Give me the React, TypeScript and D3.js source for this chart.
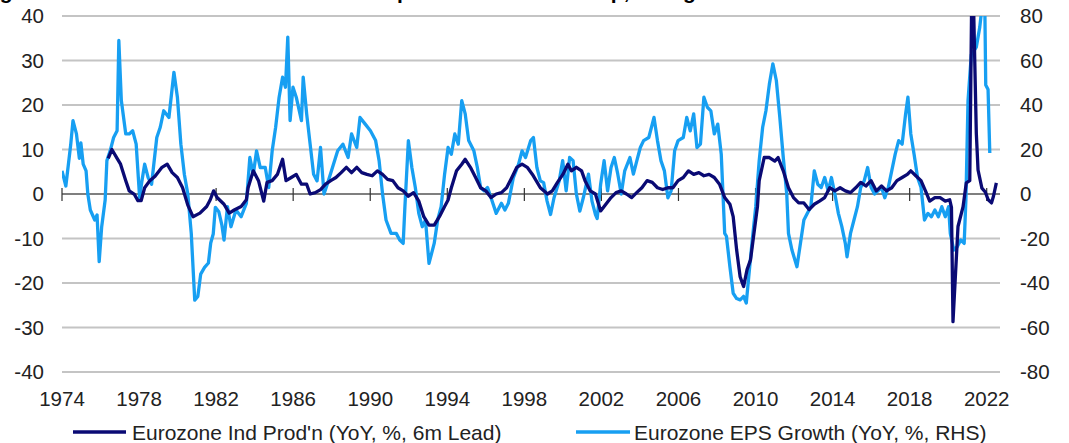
import React from "react";
import * as d3 from "d3";

const W = 1069;
const H = 443;

const yearTicks = [1974, 1978, 1982, 1986, 1990, 1994, 1998, 2002, 2006, 2010, 2014, 2018, 2022];
const leftTicks = [-40, -30, -20, -10, 0, 10, 20, 30, 40];
const rightTicks = [-80, -60, -40, -20, 0, 20, 40, 60, 80];

const seriesNames = ["Eurozone Ind Prod'n (YoY, %, 6m Lead)", "Eurozone EPS Growth (YoY, %, RHS)"];

// Eurozone Ind Prod'n (YoY %, 6m lead) — left axis
const ipYears = [
  1976.4, 1976.59, 1976.86, 1977.04, 1977.31, 1977.49, 1977.76, 1977.94, 1978.11, 1978.29,
  1978.56, 1978.83, 1979.19, 1979.46, 1979.72, 1979.99, 1980.26, 1980.53, 1980.8, 1981.16,
  1981.51, 1981.69, 1981.87, 1982.05, 1982.41, 1982.68, 1982.94, 1983.3, 1983.57, 1983.66,
  1983.93, 1984.2, 1984.47, 1984.64, 1984.91, 1985.18, 1985.45, 1985.63, 1985.9, 1986.16,
  1986.43, 1986.7, 1986.88, 1987.15, 1987.42, 1987.68, 1987.95, 1988.22, 1988.49, 1988.76,
  1989.03, 1989.3, 1989.56, 1989.83, 1990.1, 1990.37, 1990.64, 1990.9, 1991.17, 1991.44,
  1991.71, 1991.98, 1992.25, 1992.52, 1992.78, 1993.05, 1993.32, 1993.59, 1993.86, 1994.04,
  1994.21, 1994.48, 1994.75, 1994.93, 1995.2, 1995.47, 1995.73, 1996.0, 1996.27, 1996.54,
  1996.81, 1997.08, 1997.35, 1997.61, 1997.88, 1998.15, 1998.42, 1998.83, 1999.2, 1999.45,
  1999.72, 2000.0, 2000.26, 2000.44, 2000.7, 2000.97, 2001.15, 2001.42, 2001.69, 2001.96,
  2002.23, 2002.5, 2002.76, 2003.03, 2003.3, 2003.57, 2003.83, 2004.1, 2004.37, 2004.64,
  2004.91, 2005.18, 2005.45, 2005.71, 2005.98, 2006.25, 2006.52, 2006.79, 2007.06, 2007.32,
  2007.59, 2007.86, 2008.13, 2008.4, 2008.67, 2008.84, 2009.02, 2009.2, 2009.38, 2009.56,
  2009.74, 2009.92, 2010.1, 2010.19, 2010.45, 2010.72, 2011.0, 2011.17, 2011.44, 2011.71,
  2011.97, 2012.24, 2012.51, 2012.78, 2013.05, 2013.32, 2013.59, 2013.85, 2014.12, 2014.39,
  2014.66, 2014.93, 2015.2, 2015.46, 2015.73, 2016.0, 2016.27, 2016.54, 2016.8, 2017.07,
  2017.34, 2017.61, 2017.88, 2018.06, 2018.32, 2018.59, 2018.86, 2019.04, 2019.31, 2019.58,
  2019.85, 2020.08, 2020.17, 2020.25, 2020.51, 2020.77, 2020.94, 2021.12, 2021.25, 2021.46,
  2021.55, 2021.75, 2021.92, 2022.08, 2022.25, 2022.35, 2022.5,
];
const ipValues = [
  8, 10, 8, 6.7, 3, 0.7, -0.1, -1.5, -1.5, 1.4,
  3, 4, 6, 6.7, 4.8, 3.7, 1.4, -2.5, -5.1, -4.3,
  -2.8, -1.35, 0.7, -0.8, -2.3, -4.3, -3.6, -2.8, -1.3, 1.4,
  5.2, 3, -1.6, 2.6, 3, 4.4, 7.8, 3, 3.7, 4.4,
  2.2, 2.2, 0, 0.3, 1, 2.2, 3, 3.7, 4.8, 6,
  4.8, 6, 4.8, 4.4, 4.1, 5.2, 4.4, 3.3, 3, 1.4,
  0.7, -0.5, 0.3, -1.6, -5.1, -7, -7, -5.1, -2.8, -1.35,
  1.4, 5.2, 6.7, 7.8, 6, 3.7, 1.4, 0.7, -0.8, 0,
  0.3, 1.4, 3.7, 6, 6.7, 6, 4.4, 1.4, 0, 0.7,
  2.6, 4.4, 6.7, 5.2, 6, 5.2, 3, 0.7, 0, -3.8,
  -2.3, -0.8, 0.3, 0.7, 0, -0.8, 0.3, 1.4, 3, 2.6,
  1.4, 1, 1.4, 1.4, 3, 3.7, 5.2, 4.4, 4.8, 4.1,
  4.4, 3.7, 2.2, -0.8, -2.3, -5.1, -12.6, -18.6, -20.8, -17,
  -14.8, -8.8, -2.8, 3, 8.2, 8.2, 7.4, 8.2, 5.2, 1.4,
  -0.8, -2, -2, -3.5, -2.3, -1.6, -0.8, 1.4, 0.7, 1.4,
  0.7, 0.3, 1.4, 2.6, 1.8, 3, 0.7, 1.8, 0.7, 1.4,
  3, 3.7, 4.4, 5.2, 4.1, 3, 0.3, -1.6, -0.8, -0.8,
  -1.6, -1.3, -3, -28.7, -7.3, -2.9, 2.5, 3, 56, 13.7,
  5.4, 1.3, 0.5, -1.3, -2, -0.5, 2.5,
];

// Eurozone EPS growth (YoY %) — right axis
const epsYears = [
  1974.0, 1974.2, 1974.45, 1974.57, 1974.75, 1974.9, 1974.98, 1975.1, 1975.25, 1975.34,
  1975.47, 1975.7, 1975.82, 1975.93, 1976.06, 1976.24, 1976.33, 1976.5, 1976.68, 1976.86,
  1976.95, 1977.08, 1977.31, 1977.49, 1977.67, 1977.85, 1978.03, 1978.15, 1978.29, 1978.47,
  1978.65, 1978.92, 1979.1, 1979.28, 1979.55, 1979.81, 1979.99, 1980.17, 1980.35, 1980.53,
  1980.71, 1980.89, 1981.05, 1981.2, 1981.4, 1981.6, 1981.72, 1981.85, 1981.96, 1982.14,
  1982.3, 1982.41, 1982.59, 1982.77, 1983.03, 1983.3, 1983.57, 1983.75, 1983.93, 1984.1,
  1984.29, 1984.55, 1984.73, 1984.91, 1985.09, 1985.27, 1985.45, 1985.6, 1985.72, 1985.84,
  1985.99, 1986.16, 1986.43, 1986.52, 1986.7, 1986.88, 1987.06, 1987.24, 1987.42, 1987.6,
  1987.77, 1988.04, 1988.31, 1988.58, 1988.85, 1989.03, 1989.3, 1989.47, 1989.74, 1990.01,
  1990.28, 1990.46, 1990.64, 1990.82, 1991.08, 1991.35, 1991.53, 1991.71, 1991.8, 1991.98,
  1992.16, 1992.34, 1992.52, 1992.7, 1992.87, 1993.05, 1993.32, 1993.5, 1993.68, 1993.86,
  1994.04, 1994.21, 1994.39, 1994.57, 1994.75, 1994.93, 1995.11, 1995.38, 1995.56, 1995.73,
  1995.91, 1996.09, 1996.27, 1996.54, 1996.81, 1996.99, 1997.17, 1997.43, 1997.7, 1997.88,
  1998.06, 1998.33, 1998.47, 1998.65, 1998.83, 1999.0, 1999.18, 1999.36, 1999.54, 1999.81,
  1999.99, 2000.17, 2000.35, 2000.53, 2000.7, 2000.88, 2001.06, 2001.33, 2001.51, 2001.69,
  2001.78, 2001.96, 2002.14, 2002.32, 2002.5, 2002.67, 2002.85, 2003.03, 2003.21, 2003.48,
  2003.66, 2003.84, 2004.02, 2004.19, 2004.46, 2004.73, 2004.91, 2005.09, 2005.27, 2005.45,
  2005.62, 2005.8, 2005.98, 2006.25, 2006.43, 2006.61, 2006.79, 2006.96, 2007.14, 2007.32,
  2007.5, 2007.68, 2007.86, 2008.04, 2008.22, 2008.4, 2008.49, 2008.67, 2008.84, 2009.02,
  2009.2, 2009.38, 2009.52, 2009.65, 2009.83, 2010.01, 2010.19, 2010.37, 2010.54, 2010.72,
  2010.9, 2011.08, 2011.26, 2011.44, 2011.62, 2011.71, 2011.89, 2012.15, 2012.33, 2012.51,
  2012.69, 2012.87, 2013.05, 2013.23, 2013.41, 2013.59, 2013.77, 2013.94, 2014.12, 2014.3,
  2014.48, 2014.66, 2014.75, 2014.93, 2015.11, 2015.29, 2015.46, 2015.64, 2015.82, 2016.0,
  2016.18, 2016.36, 2016.54, 2016.71, 2016.89, 2017.07, 2017.25, 2017.43, 2017.61, 2017.79,
  2017.91, 2018.06, 2018.23, 2018.41, 2018.59, 2018.77, 2018.95, 2019.13, 2019.31, 2019.49,
  2019.67, 2019.85, 2020.02, 2020.11, 2020.29, 2020.47, 2020.65, 2020.83, 2020.92, 2021.03,
  2021.2, 2021.46, 2021.64, 2021.78, 2021.9, 2021.95, 2022.07, 2022.16,
];
const epsValues = [
  10.4, 3.6, 22, 33, 27, 16, 23, 13.4, 10.4, 0,
  -7.2, -11.7, -9.4, -30.4, -14.7, -2.7, 15, 19.4, 25.4, 28.4,
  69, 42, 27, 27, 28.4, 22.4, -1.7, 5.9, 13.4, 7.4,
  4.4, 25.4, 30, 37.4, 34.4, 54.7, 43.5, 22.4, 8.9, 0,
  -17.7, -47.7, -46, -36, -33, -31, -22, -18, -6, -8,
  -14, -20.7, -5.7, -14.7, -7.2, -10.2, -4.2, 16.4, 8.9, 19.4,
  11.9, 11.9, 2.9, 19.4, 30, 43.5, 52.5, 48, 70.5, 33,
  48, 43.5, 33, 52.5, 36, 22.4, 8.9, 5.9, 20.9, 0,
  4.4, 11.9, 19.4, 22.4, 16.4, 27, 20.9, 34.4, 31.4, 28.4,
  24, 15, 0, -11.7, -17.7, -17.7, -20.7, -22.2, -5.7, 24,
  11.9, 2.9, -8.7, -14.7, -11.7, -31.2, -22.2, -11.7, -5.7, 8.9,
  20.9, 17.9, 27, 22.4, 42, 36, 24, 19.4, 11.9, 2.9,
  1.4, 2.9, -1.7, -8.7, -4.2, -7.2, -4.2, 7.4, 13.4, 19.4,
  16.4, 24, 25.4, 11.9, 5.9, 5.1, -3.2, -9.2, -1.7, 5.9,
  15, 1.4, 16.4, 15, 0, -7.7, -1.7, 8.9, -3.2, -9.2,
  -11, 4.4, 15, 1.4, 11.9, 16.4, 8.9, 0, 10.4, 16.4,
  8.9, 15, 20.9, 24, 25.4, 34.4, 24, 15, 10.4, -1.7,
  1.4, 19.4, 24, 25.4, 34.4, 28.4, 36, 20.9, 22.4, 43.5,
  39, 37.4, 27, 31.4, 17.9, -17.7, -19, -32.7, -44.6, -47,
  -47.6, -46, -49, -37, -20.7, -5.7, 15, 30, 37.4, 49.5,
  58.5, 51, 34.4, 16.4, 0, -17.7, -25.2, -32.7, -22.2, -11.7,
  -8.7, -5.7, 10.4, 4.4, 2.9, 7.4, 1.4, 7.4, 0, -8.7,
  -14.7, -22.2, -28.2, -17.7, -11.7, -5.7, 2.9, 5.9, 11.9, 2.9,
  0, 1.4, 2.9, -1.7, 2.9, 10.4, 17.9, 24, 22.4, 36,
  43.5, 27, 17.9, 7.4, 2.9, -11.7, -8.7, -10.2, -7.2, -10.2,
  -5.7, -10.2, -5.7, -17.7, -25.2, -23.7, -20.7, -22.2, -2.7, 42,
  62.5, 66, 75, 86, 86, 49, 47, 18.4,
];

const NAVY = "#0a0a74";
const LIGHT = "#179ff2";
const GRID = "#c4c4c4";
const TEXT = "#222222";
const FONT = "'Liberation Sans', Arial, Helvetica, sans-serif";

export default function App() {
  const left = 62;
  const right = 1000;
  const top = 16;
  const bottom = 372;

  const x = d3.scaleLinear().domain([1974, 2022.69]).range([left, right]);
  const yL = d3.scaleLinear().domain([-40, 40]).range([bottom, top]);
  const yR = d3.scaleLinear().domain([-80, 80]).range([bottom, top]);

  const ipLine = d3
    .line<number>()
    .x((_, i) => x(ipYears[i]))
    .y((d) => yL(d));
  const epsLine = d3
    .line<number>()
    .x((_, i) => x(epsYears[i]))
    .y((d) => yR(d));

  const zeroY = yL(0);

  return (
    <svg
      width={W}
      height={H}
      viewBox={`0 0 ${W} ${H}`}
      style={{ position: "absolute", left: 0, top: 0, background: "#fff" }}
      fontFamily={FONT}
    >
      <rect x={0} y={0} width={W} height={H} fill="#fff" />
      <defs>
        <clipPath id="plotClip">
          <rect x={left} y={top} width={right - left} height={bottom - top} />
        </clipPath>
      </defs>

      {/* title cropped at the top edge in the reference: only descenders show */}
      <text y={-1} fontSize={21} fontWeight="bold" fill="#000">
        <tspan x={-19}>Figure 5: Eurozone Ind Prod'n and</tspan>
        <tspan x={397}>profits turned</tspan>
        <tspan x={598}>up,</tspan>
        <tspan x={683}>growth to slow</tspan>
      </text>

      {/* gridlines */}
      {leftTicks
        .filter((t) => t !== 0)
        .map((t) => (
          <line key={`g${t}`} x1={left} x2={right} y1={yL(t)} y2={yL(t)} stroke={GRID} strokeWidth={2} />
        ))}

      {/* left axis labels */}
      {leftTicks.map((t) => (
        <text key={`l${t}`} x={44} y={yL(t) + 7} textAnchor="end" fontSize={20.5} fill={TEXT}>
          {t}
        </text>
      ))}
      {/* right axis labels */}
      {rightTicks.map((t) => (
        <text key={`r${t}`} x={1020} y={yR(t) + 7} textAnchor="start" fontSize={20.5} fill={TEXT}>
          {t}
        </text>
      ))}

      {/* zero axis line and ticks */}
      <line x1={left} x2={right} y1={zeroY} y2={zeroY} stroke="#000" strokeWidth={1.2} />
      {yearTicks.map((yr) => (
        <line key={`t${yr}`} x1={x(yr)} x2={x(yr)} y1={zeroY - 6} y2={zeroY + 7} stroke="#333" strokeWidth={1.2} />
      ))}

      {/* year labels */}
      {yearTicks.map((yr) => (
        <text key={`y${yr}`} x={x(yr)} y={405.5} textAnchor="middle" fontSize={20.5} fill={TEXT}>
          {yr}
        </text>
      ))}

      {/* series */}
      <g clipPath="url(#plotClip)">
        <path d={epsLine(epsValues) || ""} fill="none" stroke={LIGHT} strokeWidth={3.3} strokeLinejoin="round" />
        <path d={ipLine(ipValues) || ""} fill="none" stroke={NAVY} strokeWidth={3.3} strokeLinejoin="round" />
      </g>

      {/* legend */}
      <line x1={73} x2={126} y1={432} y2={432} stroke={NAVY} strokeWidth={3.5} />
      <text x={132} y={440} fontSize={21} fill={TEXT}>
        {seriesNames[0]}
      </text>
      <line x1={576} x2={630} y1={432} y2={432} stroke={LIGHT} strokeWidth={3.5} />
      <text x={634} y={440} fontSize={21} fill={TEXT}>
        {seriesNames[1]}
      </text>
    </svg>
  );
}
